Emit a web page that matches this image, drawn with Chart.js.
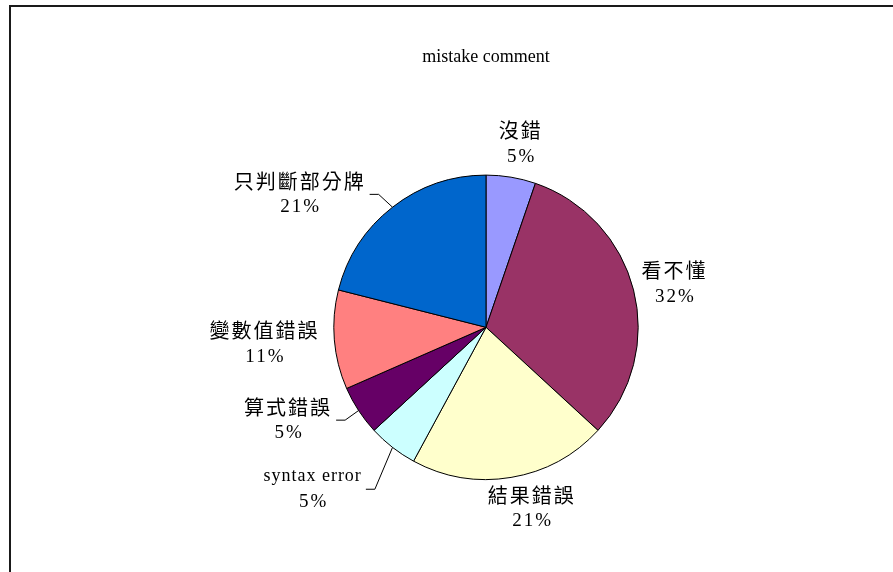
<!DOCTYPE html>
<html>
<head>
<meta charset="utf-8">
<script src="https://cdn.jsdelivr.net/npm/chart.js@4"></script>
<style>
  body { margin: 0; background: #fff; }
  #wrap { position: relative; width: 893px; height: 572px; overflow: hidden; background: #fff; }
  #frame { position: absolute; left: 9px; top: 5px; width: 2000px; height: 2000px;
           border-left: 2px solid #1a1a1a; border-top: 2px solid #1a1a1a; }
  canvas { position: absolute; left: 0; top: 0; }
</style>
</head>
<body>
<div id="wrap">
  <div id="frame"></div>
  <canvas id="pie" width="893" height="572"></canvas>
</div>
<script>
const categories = ["沒錯", "看不懂", "結果錯誤", "syntax error", "算式錯誤", "變數值錯誤", "只判斷部分牌"];
const counts = [1, 6, 4, 1, 1, 2, 4];
const sliceColors = ["#9999FF", "#993366", "#FFFFCC", "#CCFFFF", "#660066", "#FF8080", "#0066CC"];

// label placement tweaks (px) and which labels get a leader line
const labelShift = [[4, 0], [8, 2], [15, -3], [-59, 15], [-42, -9], [-36, 1], [-72, 14]];
const hasLeader = [false, false, false, true, true, false, true];

const total = counts.reduce((a, b) => a + b, 0);

const sliceLabels = {
  id: "sliceLabels",
  afterDatasetsDraw(chart) {
    const ctx = chart.ctx;
    chart.getDatasetMeta(0).data.forEach((arc, i) => {
      const p = arc.getProps(["x", "y", "startAngle", "endAngle", "outerRadius"], true);
      const mid = (p.startAngle + p.endAngle) / 2;
      const d = p.outerRadius + 34;
      const cx = p.x + Math.cos(mid) * d + labelShift[i][0];
      const cy = p.y + Math.sin(mid) * d + labelShift[i][1];
      const name = categories[i];
      const pct = Math.round((counts[i] / total) * 100) + "%";
      const latin = /^[\x00-\x7f]+$/.test(name);

      ctx.save();
      ctx.fillStyle = "#000";
      ctx.textAlign = "center";
      ctx.textBaseline = "middle";
      ctx.font = latin ? '18px "Liberation Serif"' : '20px "Noto Sans CJK TC"';
      ctx.letterSpacing = latin ? "1px" : "2px";
      ctx.fillText(name, cx, cy - 13);
      const w = ctx.measureText(name).width;
      ctx.font = '19px "Liberation Serif"';
      ctx.letterSpacing = "2px";
      ctx.fillText(pct, cx + 1, cy + 13);

      if (hasLeader[i]) {
        const ax = cx + w / 2 + 4;
        ctx.strokeStyle = "#000";
        ctx.lineWidth = 1;
        ctx.beginPath();
        ctx.moveTo(ax, cy);
        ctx.lineTo(ax + 9, cy);
        ctx.lineTo(p.x + Math.cos(mid) * p.outerRadius, p.y + Math.sin(mid) * p.outerRadius);
        ctx.stroke();
      }
      ctx.restore();
    });
  },
};

new Chart(document.getElementById("pie"), {
  type: "pie",
  data: {
    labels: categories,
    datasets: [
      {
        data: counts,
        backgroundColor: sliceColors,
        borderColor: "#000",
        borderWidth: 1,
      },
    ],
  },
  options: {
    responsive: false,
    animation: false,
    layout: { padding: { left: 333, right: 254, top: 0, bottom: 92 } },
    plugins: {
      legend: { display: false },
      tooltip: { enabled: false },
      title: {
        display: true,
        text: "mistake comment",
        fullSize: false,
        color: "#000",
        font: { family: "Liberation Serif", size: 18, weight: "normal" },
        padding: { top: 46, bottom: 107 },
      },
    },
  },
  plugins: [sliceLabels],
});
</script>
</body>
</html>
